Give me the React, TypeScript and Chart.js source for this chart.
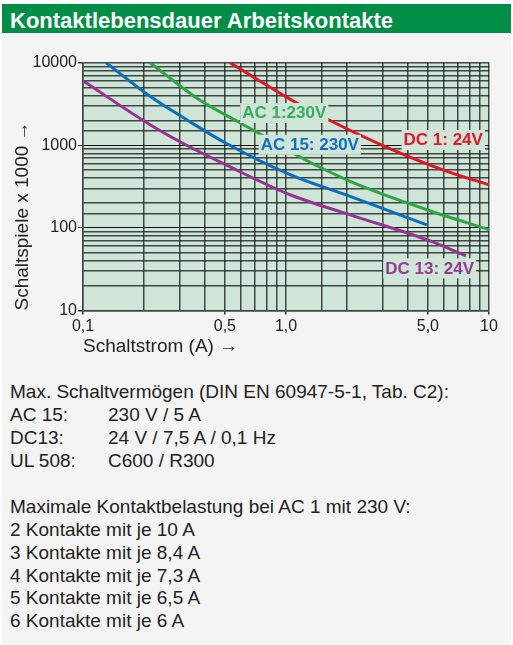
import React, { useEffect, useRef } from "react";
import { Chart, registerables } from "chart.js";

Chart.register(...registerables);

const FONT = '"Liberation Sans", Arial, Helvetica, sans-serif';

// ---- data (current in A, switching cycles x 1000) ----
const dc1Current = [0.53, 1.17, 1.62, 3.14, 6.21, 10];
const dc1Cycles = [10000, 3100, 2040, 946, 484, 333];

const ac1Current = [0.214, 0.376, 0.593, 0.788, 1.1, 2.07, 4.94, 10];
const ac1Cycles = [10000, 3535, 1875, 1270, 785, 367, 166, 95];

const ac15Current = [0.13, 0.214, 0.324, 0.504, 1.047, 2.07, 4.94];
const ac15Cycles = [10000, 3917, 2042, 1067, 441, 241, 109];

const dc13Current = [0.1, 0.214, 0.324, 0.504, 1.047, 2.07, 4.94, 7.7];
const dc13Cycles = [6050, 1775, 1000, 582, 252, 144, 72, 46];

const seriesNames = ["DC 1: 24V", "AC 1:230V", "AC 15: 230V", "DC 13: 24V"];
const seriesColors = ["rgb(228,20,38)", "rgb(46,166,70)", "rgb(12,110,190)", "rgb(150,52,148)"];
const labelColors = ["rgb(226,24,42)", "rgb(58,172,96)", "rgb(18,112,192)", "rgb(150,58,148)"];
// label anchor (centre) in data units
const labelCurrent = [5.95, 0.98, 1.31, 5.1];
const labelCycles = [1159, 2460, 1016, 32.4];

const xTickValues = [0.1, 0.5, 1, 5, 10];
const xTickLabels = ["0,1", "0,5", "1,0", "5,0", "10"];
const yTickValues = [10, 100, 1000, 10000];
const yTickLabels = ["10", "100", "1000", "10000"];

const xTitle = "Schaltstrom (A) \u2192";
const yTitle = "Schaltspiele x 1000 \u2192";
const heading = "Kontaktlebensdauer Arbeitskontakte";

const specHeading = "Max. Schaltvermögen (DIN EN 60947-5-1, Tab. C2):";
const specNames = ["AC 15:", "DC13:", "UL 508:"];
const specValues = ["230 V / 5 A", "24 V / 7,5 A / 0,1 Hz", "C600 / R300"];
const loadHeading = "Maximale Kontaktbelastung bei AC 1 mit 230 V:";
const contactCounts = [2, 3, 4, 5, 6];
const contactCurrents = ["10", "8,4", "7,3", "6,5", "6"];

const HEADER_GREEN = "#008e47";
const PANEL_GRAY = "#f4f4f4";
const PLOT_BG = "#cfe5d7";
const TEXT = "#222222";
const GRID = "rgba(28,32,30,0.8)";

function labelFor(v: number, values: number[], labels: string[]): string {
  for (let i = 0; i < values.length; i++) {
    if (Math.abs(v / values[i] - 1) < 1e-6) return labels[i];
  }
  return "";
}

const plotBackground = {
  id: "plotBackground",
  beforeDraw(chart: any) {
    const { ctx, chartArea: a } = chart;
    ctx.save();
    ctx.fillStyle = PLOT_BG;
    ctx.fillRect(a.left, a.top, a.right - a.left, a.bottom - a.top);
    ctx.restore();
  },
};

const curveLabels = {
  id: "curveLabels",
  afterDatasetsDraw(chart: any) {
    const { ctx } = chart;
    const xs = chart.scales.x;
    const ys = chart.scales.y;
    ctx.save();
    ctx.font = `bold 17px ${FONT}`;
    ctx.textAlign = "center";
    ctx.textBaseline = "middle";
    for (let i = 0; i < seriesNames.length; i++) {
      const px = xs.getPixelForValue(labelCurrent[i]);
      const py = ys.getPixelForValue(labelCycles[i]);
      const w = ctx.measureText(seriesNames[i]).width;
      ctx.fillStyle = PLOT_BG;
      ctx.fillRect(px - w / 2 - 2, py - 10, w + 4, 20);
      ctx.fillStyle = labelColors[i];
      ctx.fillText(seriesNames[i], px, py + 0.5);
    }
    ctx.restore();
  },
};

function ChartBox() {
  const ref = useRef<HTMLCanvasElement | null>(null);
  useEffect(() => {
    if (!ref.current) return;
    const build = (xs: number[], ys: number[]) => xs.map((x, i) => ({ x, y: ys[i] }));
    const currents = [dc1Current, ac1Current, ac15Current, dc13Current];
    const cycles = [dc1Cycles, ac1Cycles, ac15Cycles, dc13Cycles];
    const chart = new Chart(ref.current, {
      type: "line",
      data: {
        datasets: seriesNames.map((name, i) => ({
          label: name,
          data: build(currents[i], cycles[i]),
          borderColor: seriesColors[i],
          borderWidth: 3,
          pointRadius: 0,
          fill: false,
          cubicInterpolationMode: "monotone" as const,
        })),
      },
      options: {
        responsive: false,
        animation: false,
        devicePixelRatio: 1,
        layout: { padding: { left: 0, right: 24, top: 22.7, bottom: 4.5 } },
        plugins: { legend: { display: false }, tooltip: { enabled: false } },
        scales: {
          x: {
            type: "logarithmic",
            min: 0.1,
            max: 10,
            afterFit: (s: any) => {
              s.height = 55;
            },
            border: { display: true, color: "rgba(60,64,62,0.85)", width: 1.5 },
            grid: {
              color: GRID,
              lineWidth: 1.5,
              drawTicks: true,
              tickLength: 4,
              tickColor: (c: any) =>
                c.tick && labelFor(c.tick.value, xTickValues, xTickLabels) ? "#333" : "rgba(0,0,0,0)",
            },
            ticks: {
              autoSkip: false,
              maxRotation: 0,
              padding: 2,
              color: TEXT,
              font: { family: FONT, size: 16 },
              callback: (v: any) => labelFor(Number(v), xTickValues, xTickLabels),
            },
            title: {
              display: true,
              text: xTitle,
              align: "start",
              color: TEXT,
              font: { family: FONT, size: 19 },
              padding: { top: 0, bottom: 7 },
            },
          },
          y: {
            type: "logarithmic",
            min: 10,
            max: 10000,
            afterFit: (s: any) => {
              s.width = 83;
            },
            border: { display: true, color: "rgba(60,64,62,0.85)", width: 1.5 },
            grid: {
              color: (c: any) =>
                c.tick && (c.tick.value === 100 || c.tick.value === 1000) ? "#111" : GRID,
              lineWidth: (c: any) =>
                c.tick && (c.tick.value === 100 || c.tick.value === 1000) ? 1 : 1.5,
              drawTicks: true,
              tickLength: 5,
              tickColor: (c: any) =>
                c.tick && labelFor(c.tick.value, yTickValues, yTickLabels) ? "#333" : "rgba(0,0,0,0)",
            },
            ticks: {
              autoSkip: false,
              padding: 1,
              color: TEXT,
              font: { family: FONT, size: 16 },
              callback: (v: any) => labelFor(Number(v), yTickValues, yTickLabels),
            },
            title: {
              display: true,
              text: yTitle,
              align: "start",
              color: TEXT,
              font: { family: FONT, size: 19 },
              padding: { top: 11.5, bottom: 0 },
            },
          },
        },
      },
      plugins: [plotBackground, curveLabels],
    } as any);
    return () => chart.destroy();
  }, []);
  return (
    <canvas
      ref={ref}
      width={513}
      height={330}
      style={{ position: "absolute", left: 0, top: 40, width: 513, height: 330 }}
    />
  );
}

export default function App() {
  return (
    <div
      style={{
        position: "absolute",
        left: 0,
        top: 0,
        width: 513,
        height: 645,
        background: "#ffffff",
        overflow: "hidden",
        fontFamily: FONT,
      }}
    >
      <div style={{ position: "absolute", left: 2, top: 4, width: 509, height: 641, background: PANEL_GRAY }} />
      <div style={{ position: "absolute", left: 2, top: 4, width: 509, height: 29, background: HEADER_GREEN }}>
        <div
          style={{
            position: "absolute",
            left: 8,
            top: 3.8,
            height: 25,
            lineHeight: "25px",
            fontSize: 22,
            fontWeight: "bold",
            color: "#ffffff",
            whiteSpace: "nowrap",
          }}
        >
          {heading}
        </div>
      </div>
      <ChartBox />
      <div
        style={{
          position: "absolute",
          left: 10,
          top: 381,
          fontSize: 19,
          lineHeight: "22.94px",
          color: TEXT,
          whiteSpace: "nowrap",
        }}
      >
        <div>{specHeading}</div>
        {specNames.map((n, i) => (
          <div key={n}>
            <span style={{ display: "inline-block", width: 98 }}>{n}</span>
            {specValues[i]}
          </div>
        ))}
        <div>&nbsp;</div>
        <div>{loadHeading}</div>
        {contactCounts.map((n, i) => (
          <div key={n}>{`${n} Kontakte mit je ${contactCurrents[i]} A`}</div>
        ))}
      </div>
    </div>
  );
}
